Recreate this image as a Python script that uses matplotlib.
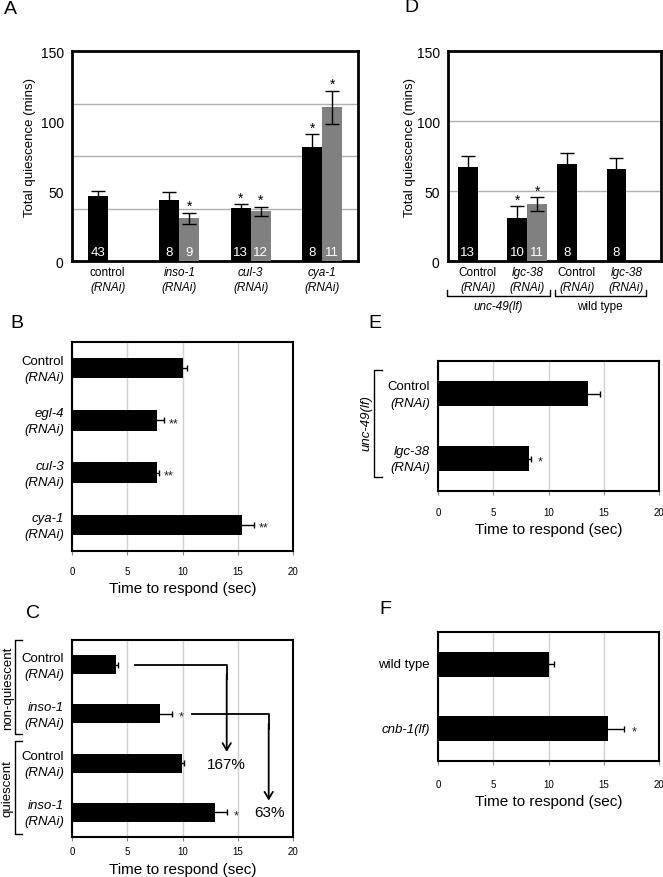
import numpy as np
import matplotlib

matplotlib.use("Agg")
import matplotlib.pyplot as plt
from matplotlib.transforms import blended_transform_factory as blend, ScaledTranslation

plt.rcParams["font.family"] = ["Liberation Sans", "DejaVu Sans"]

# ── data ────────────────────────────────────────────────────────────────────
# A: total quiescence
A_names = ["control", "inso-1", "cul-3", "cya-1"]
A_italic = [False, True, True, True]
A_black = [46.5, 43.3, 37.6, 81.2]
A_black_err = [3.7, 5.7, 2.9, 9.3]
A_gray = [np.nan, 30.5, 35.5, 109.8]
A_gray_err = [np.nan, 3.8, 3.1, 11.6]
A_black_n = ["43", "8", "13", "8"]
A_gray_n = ["", "9", "12", "11"]
A_black_star = [False, False, True, True]
A_gray_star = [False, True, True, True]

# D: total quiescence, unc-49 vs wild type
D_names = ["Control", "lgc-38", "Control", "lgc-38"]
D_italic = [False, True, False, True]
D_black = [67.0, 30.7, 69.3, 65.5]
D_black_err = [8.0, 8.3, 7.7, 7.8]
D_gray = [np.nan, 40.5, np.nan, np.nan]
D_gray_err = [np.nan, 5.0, np.nan, np.nan]
D_black_n = ["13", "10", "8", "8"]
D_gray_n = ["", "11", "", ""]
D_black_star = [False, True, False, False]
D_gray_star = [False, True, False, False]
D_groups = ["unc-49(lf)", "wild type"]

# B: time to respond
B_names = ["Control", "egl-4", "cul-3", "cya-1"]
B_italic = [False, True, True, True]
B_vals = [10.05, 7.66, 7.66, 15.4]
B_err = [0.35, 0.7, 0.2, 1.1]
B_stars = ["", "**", "**", "**"]

# C: time to respond, non-quiescent vs quiescent
C_names = ["Control", "inso-1", "Control", "inso-1"]
C_italic = [False, True, False, True]
C_vals = [4.0, 7.96, 9.93, 12.94]
C_err = [0.2, 1.05, 0.23, 1.06]
C_stars = ["", "*", "", "*"]
C_states = ["non-quiescent", "quiescent"]
C_change = ["167%", "63%"]

# E: unc-49(lf)
E_names = ["Control", "lgc-38"]
E_italic = [False, True]
E_vals = [13.6, 8.2]
E_err = [1.1, 0.2]
E_stars = ["", "*"]

# F
F_names = ["wild type", "cnb-1(lf)"]
F_italic = [False, True]
F_vals = [10.06, 15.42]
F_err = [0.4, 1.45]
F_stars = ["", "*"]

GRAY = "#808080"
GRID = "#d0d0d0"
W, H = 663, 878

fig = plt.figure(figsize=(W / 100, H / 100), dpi=100)


def add_ax(x0, y0, x1, y1):
    return fig.add_axes([x0 / W, 1 - y1 / H, (x1 - x0) / W, (y1 - y0) / H])


def shifted(trans, dx_px=0, dy_px=0):
    return trans + ScaledTranslation(dx_px / 100, -dy_px / 100, fig.dpi_scale_trans)


def two_lines(ax, x, y, top, top_it, bottom, bottom_it, trans, fs, ha, dy=15):
    ax.text(x, y, top, style="italic" if top_it else "normal", fontsize=fs, ha=ha,
            va="center", transform=shifted(trans, 0, -dy / 2), clip_on=False)
    ax.text(x, y, bottom, style="italic" if bottom_it else "normal", fontsize=fs, ha=ha,
            va="center", transform=shifted(trans, 0, dy / 2), clip_on=False)


def vbar_panel(ax, names, italic, black, berr, gray, gerr, bn, gn, bstar, gstar, width):
    x = np.arange(len(names))
    ekw = dict(ecolor="black", elinewidth=1, capsize=5, capthick=1)
    ax.bar(x - width / 2, black, width, color="black", yerr=berr, error_kw=ekw, zorder=3)
    gi = [i for i, v in enumerate(gray) if not np.isnan(v)]
    ax.bar(x[gi] + width / 2, np.array(gray)[gi], width, color=GRAY,
           yerr=np.array(gerr)[gi], error_kw=ekw, zorder=3)
    for i in range(len(names)):
        ax.text(x[i] - width / 2, 6.5, bn[i], color="white", fontsize=9.5, ha="center", va="center", zorder=4)
        if gn[i]:
            ax.text(x[i] + width / 2, 6.5, gn[i], color="white", fontsize=9.5, ha="center", va="center", zorder=4)
        if bstar[i]:
            ax.annotate("*", (x[i] - width / 2, black[i] + berr[i]), xytext=(0, 5),
                        textcoords="offset points", ha="center", va="center", fontsize=10)
        if gstar[i]:
            ax.annotate("*", (x[i] + width / 2, gray[i] + gerr[i]), xytext=(0, 5),
                        textcoords="offset points", ha="center", va="center", fontsize=10)
    ax.set_ylim(0, 150)
    ax.set_yticks([0, 50, 100, 150])
    ax.set_xticks([])
    ax.tick_params(axis="y", length=0, labelsize=10, pad=6)
    for s in ax.spines.values():
        s.set_linewidth(2)
    tr = blend(ax.transData, ax.transAxes)
    for i, name in enumerate(names):
        two_lines(ax, x[i], 0, name, italic[i], "(RNAi)", True, shifted(tr, 0, 18.5), 8.5, "center", dy=15)


def hbar_panel(ax, names, italic, vals, errs, stars, two_line=True, pad=8):
    y = np.arange(len(vals))
    ax.barh(y, vals, height=0.39, color="black", xerr=errs, zorder=3,
            error_kw=dict(ecolor="black", elinewidth=1, capsize=2.5, capthick=1))
    ax.set_xlim(0, 20)
    ax.set_ylim(len(vals) - 0.5, -0.5)
    ax.set_xticks([0, 5, 10, 15, 20])
    ax.set_yticks([])
    ax.tick_params(axis="x", length=3, labelsize=7, pad=pad, color="#888888")
    ax.grid(axis="x", color=GRID, lw=1, zorder=0)
    for s in ax.spines.values():
        s.set_linewidth(1.5)
    tr = blend(ax.transAxes, ax.transData)
    for i, name in enumerate(names):
        if two_line:
            two_lines(ax, 0, y[i], name, italic[i], "(RNAi)", True, shifted(tr, -8, 1), 9.5, "right", dy=16)
        else:
            ax.text(0, y[i], name, style="italic" if italic[i] else "normal", fontsize=9.5,
                    ha="right", va="center", transform=shifted(tr, -8, 0))
        if stars[i]:
            ax.annotate(stars[i], (vals[i] + errs[i], y[i]), xytext=(7, -2),
                        textcoords="offset points", ha="center", va="center", fontsize=9, color="#222222")


def left_bracket(ax, y0, y1, xoff=-0.258, tick=0.03):
    tr = blend(ax.transAxes, ax.transData)
    ax.plot([xoff + tick, xoff, xoff, xoff + tick], [y0, y0, y1, y1], color="black", lw=1,
            transform=tr, clip_on=False)


# ── A ───────────────────────────────────────────────────────────────────────
axA = add_ax(72, 52, 358, 262)
vbar_panel(axA, A_names, A_italic, A_black, A_black_err, A_gray, A_gray_err,
           A_black_n, A_gray_n, A_black_star, A_gray_star, 0.28)
axA.set_xlim(-0.5, 3.5)
axA.set_yticks([37.5, 75, 112.5], minor=True)
axA.tick_params(axis="y", which="minor", length=0)
axA.grid(axis="y", which="minor", color="#b0b0b0", lw=1, zorder=0)
axA.text(-0.147, 0.543, "Total quiescence (mins)", rotation=90, ha="center", va="center",
         fontsize=9.5, transform=axA.transAxes)

# ── D ───────────────────────────────────────────────────────────────────────
axD = add_ax(448, 52, 661, 262)
vbar_panel(axD, D_names, D_italic, D_black, D_black_err, D_gray, D_gray_err,
           D_black_n, D_gray_n, D_black_star, D_gray_star, 0.4)
axD.set_xlim(-0.6, 3.7)
axD.grid(axis="y", color="#b0b0b0", lw=1, zorder=0)
axD.text(-0.178, 0.543, "Total quiescence (mins)", rotation=90, ha="center", va="center",
         fontsize=9.5, transform=axD.transAxes)
trD = blend(axD.transData, axD.transAxes)
for (a, b), lab in zip([(-0.62, 1.45), (1.55, 3.40)], D_groups):
    axD.plot([a, a, b, b], [-0.138, -0.167, -0.167, -0.138], color="black", lw=1,
             transform=trD, clip_on=False)
    axD.text((a + b) / 2, -0.214, lab, style="italic" if "unc" in lab else "normal",
             fontsize=8.5, ha="center", va="center", transform=trD)

# ── B ───────────────────────────────────────────────────────────────────────
axB = add_ax(72, 343, 293, 552)
hbar_panel(axB, B_names, B_italic, B_vals, B_err, B_stars, pad=8)
axB.text(0.5, -37 / 209, "Time to respond (sec)", ha="center", va="center", fontsize=11,
         transform=axB.transAxes)

# ── C ───────────────────────────────────────────────────────────────────────
axC = add_ax(72, 641, 293, 838)
hbar_panel(axC, C_names, C_italic, C_vals, C_err, C_stars, pad=3.5)
axC.text(0.5, -32 / 197, "Time to respond (sec)", ha="center", va="center", fontsize=11,
         transform=axC.transAxes)
left_bracket(axC, -0.49, 1.41)
left_bracket(axC, 1.56, 3.44)
trC = blend(axC.transAxes, axC.transData)
axC.text(-0.29, 0.46, C_states[0], rotation=90, ha="center", va="center", fontsize=9.5, transform=trC)
axC.text(-0.29, 2.5, C_states[1], rotation=90, ha="center", va="center", fontsize=9.5, transform=trC)
# arrows showing fold change
for (x0, y0, x1, y1), (tx, ty), lab in zip([(5.7, 0, 14.0, 1.77), (10.9, 1, 17.8, 2.76)],
                                          [(14.0, 2.02), (17.9, 3.0)], C_change):
    axC.plot([x0, x1, x1], [y0, y0, y0 + 0.3], color="black", lw=1.3, zorder=5)
    axC.annotate("", xy=(x1, y1), xytext=(x1, y0 + 0.2),
                 arrowprops=dict(arrowstyle="->,head_length=0.5,head_width=0.3", lw=1.3, color="black",
                                 shrinkA=0, shrinkB=0), zorder=5)
    axC.text(tx, ty, lab, ha="center", va="center", fontsize=11, zorder=5)

# ── E ───────────────────────────────────────────────────────────────────────
axE = add_ax(438, 362, 659, 492)
hbar_panel(axE, E_names, E_italic, E_vals, E_err, E_stars, pad=8.5)
axE.text(0.5, -38 / 130, "Time to respond (sec)", ha="center", va="center", fontsize=11,
         transform=axE.transAxes)
left_bracket(axE, -0.36, 1.28, xoff=-0.29, tick=0.035)
trE = blend(axE.transAxes, axE.transData)
axE.text(-0.325, 0.44, "unc-49(lf)", rotation=90, style="italic", ha="center", va="center",
         fontsize=9.5, transform=trE)

# ── F ───────────────────────────────────────────────────────────────────────
axF = add_ax(438, 633, 659, 762)
hbar_panel(axF, F_names, F_italic, F_vals, F_err, F_stars, two_line=False, pad=10)
axF.text(0.5, -40 / 129, "Time to respond (sec)", ha="center", va="center", fontsize=11,
         transform=axF.transAxes)

# ── panel letters ───────────────────────────────────────────────────────────
for lab, (px, py) in zip("ABCDEF", [(10, 9), (17, 323), (33, 614), (411, 8), (375, 323), (385, 609)]):
    fig.text(px / W, 1 - py / H, lab, fontsize=14, ha="center", va="center")

fig.savefig("out.png", dpi=100)
